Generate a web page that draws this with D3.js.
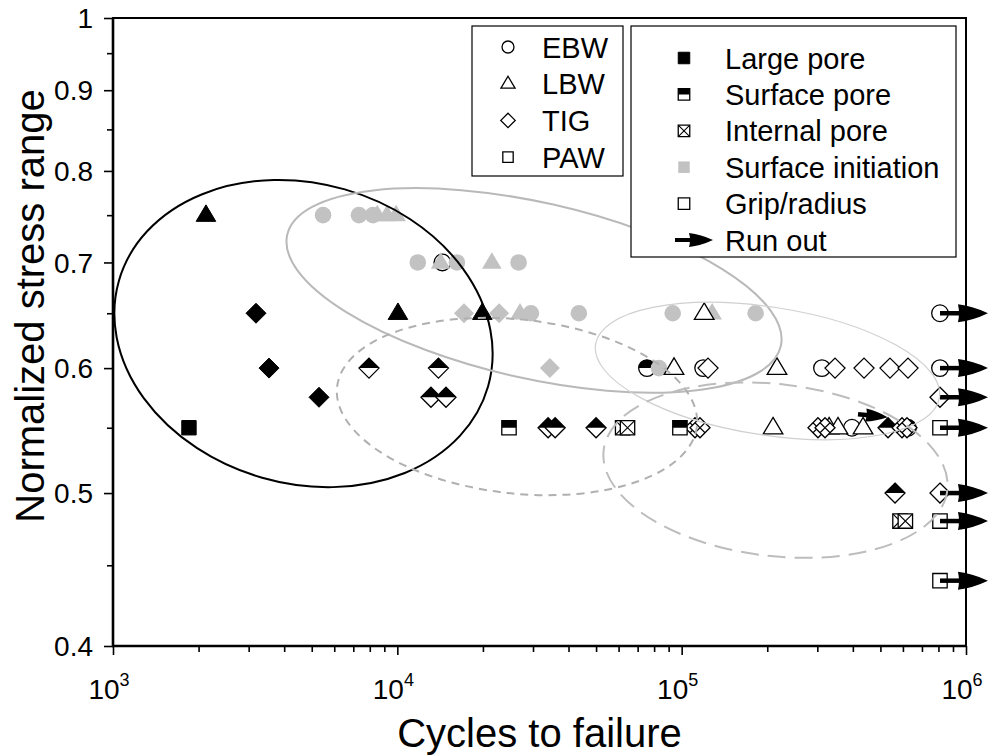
<!DOCTYPE html>
<html>
<head>
<meta charset="utf-8">
<script src="https://cdn.jsdelivr.net/npm/d3@7"></script>
<style>
  body { margin: 0; background: #fff; }
  text { font-family: "Liberation Sans", Arial, sans-serif; fill: #000; }
</style>
</head>
<body>
<svg id="chart" width="989" height="756"></svg>
<script>
// ---- data (cycles, normalized stress, failure mode) ----
// modes: large = large pore, surf = surface pore, internal = internal pore,
//        init = surface initiation, grip = grip/radius
const ebwPoints = [
  [14400, 0.70, "grip"],
  [75500, 0.60, "surf"], [625000, 0.55, "surf"],
  [5480, 0.75, "init"], [7330, 0.75, "init"], [8210, 0.75, "init"],
  [11800, 0.70, "init"], [16200, 0.70, "init"], [26700, 0.70, "init"],
  [29500, 0.65, "init"], [43500, 0.65, "init"], [93000, 0.65, "init"], [182000, 0.65, "init"],
  [83200, 0.60, "init"],
  [119000, 0.60, "grip"], [311500, 0.60, "grip"], [397000, 0.55, "grip"],
  [810000, 0.65, "grip"], [810000, 0.60, "grip"]
];
const lbwPoints = [
  [2123, 0.75, "large"], [10050, 0.65, "large"],
  [8500, 0.75, "init"], [9200, 0.75, "init"], [9900, 0.75, "init"],
  [14200, 0.70, "init"], [21500, 0.70, "init"], [27000, 0.65, "init"], [128000, 0.65, "init"],
  [120000, 0.65, "grip"], [94000, 0.60, "grip"], [216400, 0.60, "grip"],
  [209600, 0.55, "grip"], [330000, 0.55, "grip"], [354600, 0.55, "grip"], [434400, 0.55, "grip"]
];
const tigPoints = [
  [3184, 0.65, "large"], [3538, 0.60, "large"], [5303, 0.575, "large"],
  [17160, 0.65, "init"], [22800, 0.65, "init"], [34400, 0.60, "init"],
  [7950, 0.60, "surf"], [13950, 0.60, "surf"], [13130, 0.575, "surf"], [14830, 0.575, "surf"],
  [33900, 0.55, "surf"], [35900, 0.55, "surf"], [50000, 0.55, "surf"],
  [531800, 0.55, "surf"], [562800, 0.50, "surf"],
  [111400, 0.55, "internal"], [116000, 0.55, "internal"], [301600, 0.55, "internal"],
  [319300, 0.55, "internal"], [595600, 0.55, "internal"], [620200, 0.55, "internal"],
  [123800, 0.60, "grip"], [346200, 0.60, "grip"], [437900, 0.60, "grip"],
  [540400, 0.60, "grip"], [625200, 0.60, "grip"],
  [810000, 0.575, "grip"], [810000, 0.50, "grip"]
];
const pawPoints = [
  [1850, 0.55, "large"],
  [24700, 0.55, "surf"], [98600, 0.55, "surf"],
  [62000, 0.55, "internal"], [64500, 0.55, "internal"],
  [586000, 0.48, "internal"], [612000, 0.48, "internal"],
  [810000, 0.55, "grip"], [810000, 0.48, "grip"], [810000, 0.44, "grip"]
];
const lbwLate = [[19900, 0.65, "large"]];
// run-out specimens (arrow drawn from these)
const runOuts = [[810000, 0.65], [810000, 0.60], [810000, 0.575], [810000, 0.55],
                 [810000, 0.50], [810000, 0.48], [810000, 0.44]];
const strayArrow = [[417000, 0.561], [530000, 0.5585]];

const xTicks = [1e3, 1e4, 1e5, 1e6];
const xTickExp = ["3", "4", "5", "6"];
const yTicks = [0.4, 0.5, 0.6, 0.7, 0.8, 0.9, 1.0];
const yTickLabels = ["0.4", "0.5", "0.6", "0.7", "0.8", "0.9", "1"];
const yMinor = [0.45, 0.55, 0.65, 0.75, 0.85, 0.95];
const processLabels = ["EBW", "LBW", "TIG", "PAW"];
const processShapes = ["circle", "triangle", "diamond", "square"];
const failureLabels = ["Large pore", "Surface pore", "Internal pore", "Surface initiation", "Grip/radius", "Run out"];
const failureModes = ["large", "surf", "internal", "init", "grip", "runout"];

// ---- layout ----
const padL = 113, padR = 966, padT = 18, padB = 646;
const gray = "#c2c2c2";

const svg = d3.select("#chart");
const x = d3.scaleLog().domain([1e3, 1e6]).range([padL, padR]);
const y = d3.scaleLog().domain([0.4, 1]).range([padB, padT]);

const defs = svg.append("defs");
defs.append("clipPath").attr("id", "topHalf")
  .append("rect").attr("x", -30).attr("y", -30).attr("width", 60).attr("height", 30);

function shapePath(shape, k) {
  if (shape === "circle") {
    const r = 8.3 * k;
    return `M${-r},0A${r},${r} 0 1,0 ${r},0A${r},${r} 0 1,0 ${-r},0Z`;
  }
  if (shape === "triangle") {
    const w = 9.8 * k;
    return `M0,${-10.3 * k}L${w},${6.2 * k}L${-w},${6.2 * k}Z`;
  }
  if (shape === "diamond") {
    const r = 10 * k;
    return `M0,${-r}L${r},0L0,${r}L${-r},0Z`;
  }
  const h = 7.2 * k;
  return `M${-h},${-h}L${h},${-h}L${h},${h}L${-h},${h}Z`;
}

function crossPath(shape, k) {
  if (shape === "diamond") {
    const r = 10 * k / 2;
    return `M${-r},${-r}L${r},${r}M${r},${-r}L${-r},${r}`;
  }
  const h = 7.2 * k;
  return `M${-h},${-h}L${h},${h}M${h},${-h}L${-h},${h}`;
}

function drawMarker(g, shape, mode, k) {
  const p = shapePath(shape, k);
  if (mode === "init") {
    g.append("path").attr("d", p).attr("fill", gray);
  } else if (mode === "large") {
    g.append("path").attr("d", p).attr("fill", "#000").attr("stroke", "#000").attr("stroke-width", 1);
  } else {
    g.append("path").attr("d", p).attr("fill", "#fff");
    if (mode === "surf") {
      g.append("path").attr("d", p).attr("fill", "#000").attr("clip-path", "url(#topHalf)");
    }
    if (mode === "internal") {
      g.append("path").attr("d", crossPath(shape, k)).attr("fill", "none")
        .attr("stroke", "#000").attr("stroke-width", 1.1);
    }
    g.append("path").attr("d", p).attr("fill", "none").attr("stroke", "#000").attr("stroke-width", 1.3);
  }
}

function drawArrow(g, len, lineW, headLen, headH) {
  const b = len - headLen;
  g.append("line").attr("x1", 0).attr("y1", 0).attr("x2", b + 3).attr("y2", 0)
    .attr("stroke", "#000").attr("stroke-width", lineW);
  g.append("path")
    .attr("d", `M${b},${-headH}Q${b + headLen * 0.5},${-headH * 0.8} ${len},0Q${b + headLen * 0.5},${headH * 0.8} ${b},${headH}Q${b + 2},0 ${b},${-headH}Z`)
    .attr("fill", "#000");
}

// ---- ellipses (annotation outlines), centres in data units ----
const ellipses = [
  { cx: 4677, cy: 0.6310, rx: 192, ry: 150, rot: 16, stroke: "#000", w: 2, dash: null },
  { cx: 30250, cy: 0.6720, rx: 253, ry: 88, rot: 12.7, stroke: "#b9b9b9", w: 2, dash: null },
  { cx: 26360, cy: 0.5673, rx: 181, ry: 87, rot: 6.2, stroke: "#b0b0b0", w: 2, dash: "8,6" },
  { cx: 200400, cy: 0.5975, rx: 174, ry: 64, rot: 8.8, stroke: "#d0d0d0", w: 1.2, dash: null },
  { cx: 213800, cy: 0.5170, rx: 173, ry: 86, rot: 6.6, stroke: "#bdbdbd", w: 2, dash: "18,9" }
];

// ---- axes ----
const minorX = [];
[1e3, 1e4, 1e5].forEach(d => { for (let m = 2; m <= 9; m++) minorX.push(d * m); });

svg.append("g").attr("transform", `translate(0,${padB})`)
  .call(d3.axisBottom(x).tickValues(xTicks).tickSize(9).tickFormat(""));
svg.append("g").attr("transform", `translate(0,${padB})`)
  .call(d3.axisBottom(x).tickValues(minorX).tickSize(6).tickFormat(""));
svg.append("g").attr("transform", `translate(${padL},0)`)
  .call(d3.axisLeft(y).tickValues(yTicks).tickSize(9).tickFormat(""));
svg.append("g").attr("transform", `translate(${padL},0)`)
  .call(d3.axisLeft(y).tickValues(yMinor).tickSize(6).tickFormat(""));
svg.selectAll(".domain").remove();
svg.selectAll(".tick line").attr("stroke", "#000").attr("stroke-width", 1.6);

// tick labels
yTicks.forEach((d, i) => {
  svg.append("text").attr("x", 93).attr("y", y(d)).attr("dy", "0.36em")
    .attr("text-anchor", "end").attr("font-size", 28).text(yTickLabels[i]);
});
xTicks.forEach((d, i) => {
  const t = svg.append("text").attr("x", x(d) - 4).attr("y", 699)
    .attr("text-anchor", "middle").attr("font-size", 28);
  t.append("tspan").text("10");
  t.append("tspan").attr("font-size", 18).attr("dy", -13).text(xTickExp[i]);
});

// axis titles
svg.append("text").attr("x", (padL + padR) / 2).attr("y", 747).attr("text-anchor", "middle")
  .attr("font-size", 40).text("Cycles to failure");
svg.append("text").attr("transform", "translate(44,306) rotate(-90)")
  .attr("text-anchor", "middle").attr("font-size", 40).text("Normalized stress range");

// ---- plot content ----
const plot = svg.append("g");

const series = [
  { pts: ebwPoints, shape: "circle" },
  { pts: lbwPoints, shape: "triangle" },
  { pts: tigPoints, shape: "diamond" },
  { pts: pawPoints, shape: "square" },
  { pts: lbwLate, shape: "triangle" }
];
series.forEach(s => {
  s.pts.forEach(d => {
    const g = plot.append("g").attr("transform", `translate(${x(d[0])},${y(d[1])})`);
    drawMarker(g, s.shape, d[2], 1);
  });
});

runOuts.forEach(d => {
  const g = plot.append("g").attr("transform", `translate(${x(d[0])},${y(d[1])})`);
  drawArrow(g, 48, 4.5, 30, 9);
});

{
  const x0 = x(strayArrow[0][0]), y0 = y(strayArrow[0][1]);
  const x1 = x(strayArrow[1][0]), y1 = y(strayArrow[1][1]);
  const len = Math.hypot(x1 - x0, y1 - y0);
  const ang = Math.atan2(y1 - y0, x1 - x0) * 180 / Math.PI;
  const g = plot.append("g").attr("transform", `translate(${x0},${y0}) rotate(${ang})`);
  drawArrow(g, len, 4.5, 22, 6.5);
}

ellipses.forEach(e => {
  plot.append("ellipse")
    .attr("transform", `translate(${x(e.cx)},${y(e.cy)}) rotate(${e.rot})`)
    .attr("rx", e.rx).attr("ry", e.ry)
    .attr("fill", "none").attr("stroke", e.stroke).attr("stroke-width", e.w)
    .attr("stroke-dasharray", e.dash);
});

// frame
svg.append("rect").attr("x", padL).attr("y", padT).attr("width", padR - padL).attr("height", padB - padT)
  .attr("fill", "none").attr("stroke", "#000").attr("stroke-width", 2);
svg.append("line").attr("x1", padL).attr("x2", padL).attr("y1", padT).attr("y2", padB + 1)
  .attr("stroke", "#000").attr("stroke-width", 2.6);
svg.append("line").attr("x1", padL - 1).attr("x2", padR).attr("y1", padB).attr("y2", padB)
  .attr("stroke", "#000").attr("stroke-width", 2.6);

// ---- legends ----
const leg1 = svg.append("g");
leg1.append("rect").attr("x", 472).attr("y", 26).attr("width", 151).attr("height", 150)
  .attr("fill", "#fff").attr("stroke", "#000").attr("stroke-width", 1.2);
processLabels.forEach((lab, i) => {
  const cy = 47 + i * 36.7;
  const g = leg1.append("g").attr("transform", `translate(508,${cy})`);
  drawMarker(g, processShapes[i], "grip", 0.72);
  leg1.append("text").attr("x", 542).attr("y", cy + 10.5).attr("font-size", 29).text(lab);
});

const leg2 = svg.append("g");
leg2.append("rect").attr("x", 631).attr("y", 26).attr("width", 325).attr("height", 231)
  .attr("fill", "#fff").attr("stroke", "#000").attr("stroke-width", 1.2);
failureLabels.forEach((lab, i) => {
  const cy = 58 + i * 36.4;
  const g = leg2.append("g").attr("transform", `translate(684,${cy})`);
  if (failureModes[i] === "runout") {
    g.attr("transform", `translate(675,${cy})`);
    drawArrow(g, 38, 4, 24, 7);
  } else {
    drawMarker(g, "square", failureModes[i], 0.8);
  }
  leg2.append("text").attr("x", 725).attr("y", cy + 10.5).attr("font-size", 29).text(lab);
});
</script>
</body>
</html>
